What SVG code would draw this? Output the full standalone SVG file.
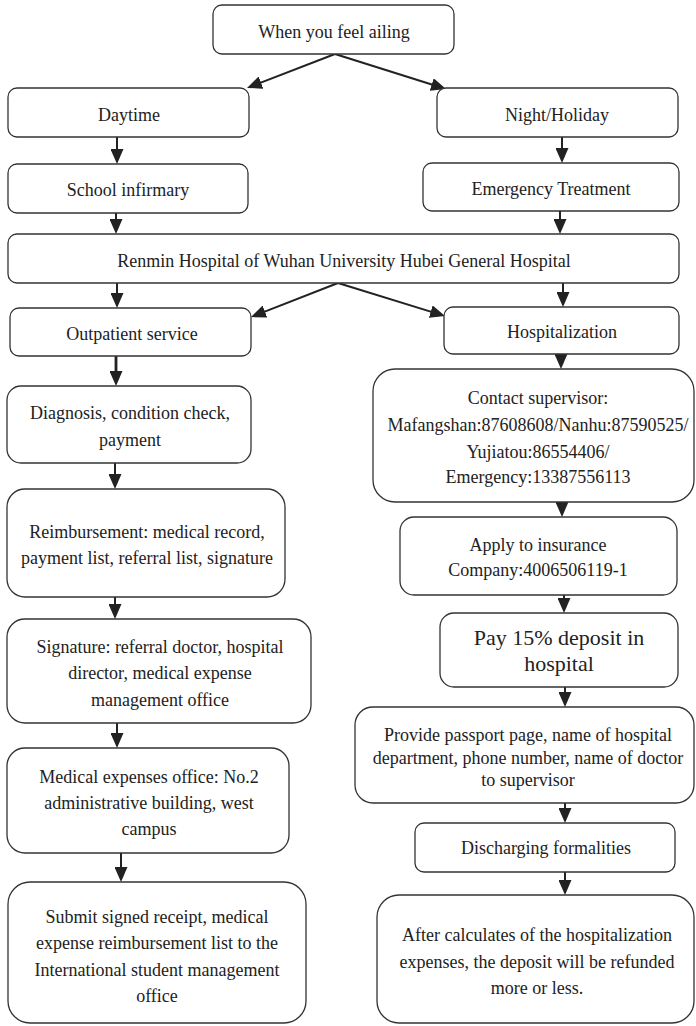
<svg xmlns="http://www.w3.org/2000/svg" width="696" height="1026" viewBox="0 0 696 1026">
<style>
.box{fill:#fff;stroke:#333;stroke-width:1.3}
text{font-family:'Liberation Serif','Times New Roman','DejaVu Serif',serif;font-size:18px;fill:#222;text-anchor:middle}
.big{font-size:22px}
.c{stroke:#222;stroke-width:2;fill:none;marker-end:url(#ah)}
.thick{stroke-width:2.8}
</style>
<defs>
<marker id="ah" viewBox="0 0 15 13" refX="5" refY="6.5" markerWidth="15" markerHeight="13" markerUnits="userSpaceOnUse" orient="auto">
<path d="M0,0 L15,6.5 L0,13 z" fill="#222"/>
</marker>
</defs>
<rect width="696" height="1026" fill="#fff"/>
<g id="connectors">
<line class="c" x1="335" y1="54" x2="256.3" y2="84.4"/>
<line class="c" x1="335" y1="54" x2="436.5" y2="86"/>
<line class="c" x1="117" y1="137" x2="117" y2="154"/>
<line class="c" x1="562" y1="137" x2="562" y2="153"/>
<line class="c" x1="116" y1="213" x2="116" y2="224"/>
<line class="c" x1="560" y1="211" x2="560" y2="224"/>
<line class="c" x1="338" y1="283" x2="260.3" y2="313.4"/>
<line class="c" x1="338" y1="283" x2="435.5" y2="313.1"/>
<line class="c" x1="117" y1="283" x2="117" y2="298"/>
<line class="c" x1="563" y1="283" x2="563" y2="297"/>
<line class="c thick" x1="116" y1="356" x2="116" y2="376"/>
<line class="c" x1="115" y1="463" x2="115" y2="479"/>
<line class="c" x1="115" y1="597" x2="115" y2="609"/>
<line class="c" x1="117" y1="723" x2="117" y2="738"/>
<line class="c" x1="121" y1="853" x2="121" y2="872"/>
<line class="c" x1="561" y1="354" x2="561" y2="359"/>
<line class="c" x1="562" y1="502" x2="562" y2="507"/>
<line class="c" x1="564" y1="595" x2="564" y2="603"/>
<line class="c" x1="565" y1="687" x2="565" y2="697"/>
<line class="c" x1="565" y1="803" x2="565" y2="813"/>
<line class="c" x1="565" y1="872" x2="565" y2="885"/>
</g>
<g font-family="Liberation Serif, Times New Roman, serif">
<g id="n-ailing"><rect class="box" x="213" y="5" width="241" height="49" rx="9"/><text x="334" y="38">When you feel ailing</text></g>
<g id="n-daytime"><rect class="box" x="8" y="88" width="241" height="49" rx="9"/><text x="129" y="121">Daytime</text></g>
<g id="n-night"><rect class="box" x="437" y="88" width="241" height="49" rx="9"/><text x="557" y="121">Night/Holiday</text></g>
<g id="n-school"><rect class="box" x="8" y="164" width="240" height="49" rx="9"/><text x="128" y="196">School infirmary</text></g>
<g id="n-emergency"><rect class="box" x="423" y="163" width="256" height="48" rx="9"/><text x="551" y="195">Emergency Treatment</text></g>
<g id="n-renmin"><rect class="box" x="8" y="234" width="671" height="49" rx="9"/><text x="344" y="267">Renmin Hospital of Wuhan University Hubei General Hospital</text></g>
<g id="n-outpatient"><rect class="box" x="10" y="308" width="241" height="48" rx="9"/><text x="132" y="340">Outpatient service</text></g>
<g id="n-hospitalization"><rect class="box" x="444" y="307" width="235" height="47" rx="9"/><text x="562" y="338">Hospitalization</text></g>
<g id="n-diagnosis"><rect class="box" x="7" y="386" width="244" height="77" rx="14"/><text x="130" y="419">Diagnosis, condition check,</text><text x="130" y="446">payment</text></g>
<g id="n-reimbursement"><rect class="box" x="7" y="489" width="278" height="108" rx="18"/><text x="147" y="538">Reimbursement: medical record,</text><text x="147" y="564">payment list, referral list, signature</text></g>
<g id="n-signature"><rect class="box" x="7" y="619" width="304" height="104" rx="18"/><text x="160" y="653">Signature: referral doctor, hospital</text><text x="160" y="679">director, medical expense</text><text x="160" y="706">management office</text></g>
<g id="n-medical"><rect class="box" x="7" y="748" width="282" height="105" rx="18"/><text x="149" y="783">Medical expenses office: No.2</text><text x="149" y="809">administrative building, west</text><text x="149" y="835">campus</text></g>
<g id="n-submit"><rect class="box" x="8" y="882" width="298" height="141" rx="22"/><text x="157" y="923">Submit signed receipt, medical</text><text x="157" y="949">expense reimbursement list to the</text><text x="157" y="976">International student management</text><text x="157" y="1002">office</text></g>
<g id="n-contact"><rect class="box" x="373" y="369" width="321" height="133" rx="22"/><text x="538" y="404">Contact supervisor:</text><text x="538" y="431">Mafangshan:87608608/Nanhu:87590525/</text><text x="538" y="458">Yujiatou:86554406/</text><text x="538" y="483">Emergency:13387556113</text></g>
<g id="n-apply"><rect class="box" x="400" y="517" width="277" height="78" rx="14"/><text x="538" y="551">Apply to insurance</text><text x="538" y="576">Company:4006506119-1</text></g>
<g id="n-pay"><rect class="box" x="440" y="613" width="238" height="74" rx="14"/><text class="big" x="559" y="645">Pay 15% deposit in</text><text class="big" x="559" y="671">hospital</text></g>
<g id="n-provide"><rect class="box" x="355" y="707" width="339" height="96" rx="18"/><text x="528" y="741">Provide passport page, name of hospital</text><text x="528" y="764">department, phone number, name of doctor</text><text x="528" y="786">to supervisor</text></g>
<g id="n-discharging"><rect class="box" x="415" y="823" width="260" height="49" rx="9"/><text x="546" y="854">Discharging formalities</text></g>
<g id="n-after"><rect class="box" x="377" y="895" width="317" height="128" rx="22"/><text x="537" y="941">After calculates of the hospitalization</text><text x="537" y="968">expenses, the deposit will be refunded</text><text x="537" y="994">more or less.</text></g>
</g>
</svg>
